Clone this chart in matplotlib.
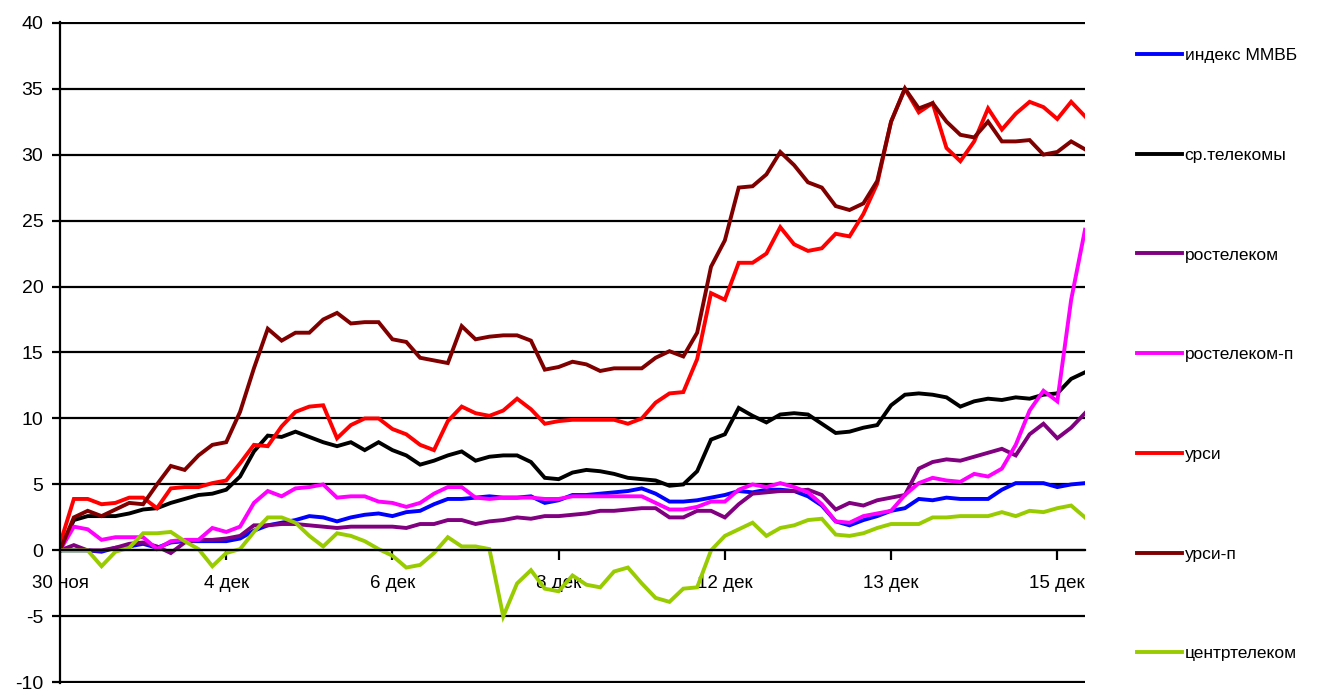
import matplotlib
matplotlib.use("Agg")
import matplotlib.pyplot as plt
import numpy as np

plt.rcParams['font.family'] = ['Liberation Sans', 'DejaVu Sans']

# x axis: one category per point, a label every 12 points
tick_labels = ["30 ноя", "4 дек", "6 дек", "8 дек", "12 дек", "13 дек", "15 дек"]
tick_step = 12

names = ["индекс ММВБ", "ср.телекомы", "ростелеком", "ростелеком-п",
         "урси", "урси-п", "центртелеком"]
colors = ["#0000FF", "#000000", "#800080", "#FF00FF",
          "#FF0000", "#800000", "#99CC00"]

micex = [0.0, 0.0, 0.0, -0.1, 0.2, 0.3, 0.5, 0.2, 0.6, 0.7, 0.7, 0.7, 0.7, 0.9, 1.5,
         1.9, 2.1, 2.3, 2.6, 2.5, 2.2, 2.5, 2.7, 2.8, 2.6, 2.9, 3.0, 3.5, 3.9, 3.9,
         4.0, 4.1, 4.0, 4.0, 4.1, 3.6, 3.8, 4.2, 4.2, 4.3, 4.4, 4.5, 4.7, 4.3, 3.7,
         3.7, 3.8, 4.0, 4.2, 4.5, 4.4, 4.6, 4.6, 4.5, 4.1, 3.4, 2.2, 1.9, 2.3, 2.6,
         3.0, 3.2, 3.9, 3.8, 4.0, 3.9, 3.9, 3.9, 4.6, 5.1, 5.1, 5.1, 4.8, 5.0, 5.1]

avg_telecom = [0.0, 2.3, 2.6, 2.6, 2.6, 2.8, 3.1, 3.2, 3.6, 3.9, 4.2, 4.3, 4.6, 5.6, 7.5,
               8.7, 8.6, 9.0, 8.6, 8.2, 7.9, 8.2, 7.6, 8.2, 7.6, 7.2, 6.5, 6.8, 7.2, 7.5,
               6.8, 7.1, 7.2, 7.2, 6.7, 5.5, 5.4, 5.9, 6.1, 6.0, 5.8, 5.5, 5.4, 5.3, 4.9,
               5.0, 6.0, 8.4, 8.8, 10.8, 10.2, 9.7, 10.3, 10.4, 10.3, 9.6, 8.9, 9.0, 9.3, 9.5,
               11.0, 11.8, 11.9, 11.8, 11.6, 10.9, 11.3, 11.5, 11.4, 11.6, 11.5, 11.8, 11.9, 13.0, 13.5]

rostelecom = [0.0, 0.4, 0.0, 0.0, 0.2, 0.5, 0.6, 0.3, -0.2, 0.6, 0.8, 0.8, 0.9, 1.1, 1.9,
              1.9, 2.0, 2.0, 1.9, 1.8, 1.7, 1.8, 1.8, 1.8, 1.8, 1.7, 2.0, 2.0, 2.3, 2.3,
              2.0, 2.2, 2.3, 2.5, 2.4, 2.6, 2.6, 2.7, 2.8, 3.0, 3.0, 3.1, 3.2, 3.2, 2.5,
              2.5, 3.0, 3.0, 2.5, 3.5, 4.3, 4.4, 4.5, 4.5, 4.6, 4.2, 3.1, 3.6, 3.4, 3.8,
              4.0, 4.2, 6.2, 6.7, 6.9, 6.8, 7.1, 7.4, 7.7, 7.2, 8.8, 9.6, 8.5, 9.3, 10.4]

rostelecom_p = [0.0, 1.8, 1.6, 0.8, 1.0, 1.0, 1.0, 0.1, 0.7, 0.8, 0.8, 1.7, 1.4, 1.8, 3.6,
                4.5, 4.1, 4.7, 4.8, 5.0, 4.0, 4.1, 4.1, 3.7, 3.6, 3.3, 3.6, 4.3, 4.8, 4.8,
                4.0, 3.9, 4.0, 4.0, 4.0, 3.9, 3.9, 4.1, 4.1, 4.1, 4.1, 4.1, 4.1, 3.6, 3.1,
                3.1, 3.3, 3.7, 3.7, 4.6, 5.0, 4.8, 5.1, 4.8, 4.4, 3.5, 2.2, 2.1, 2.6, 2.8,
                3.0, 4.2, 5.1, 5.5, 5.3, 5.2, 5.8, 5.6, 6.2, 8.0, 10.6, 12.1, 11.3, 19.0, 24.3]

ursi = [0.5, 3.9, 3.9, 3.5, 3.6, 4.0, 4.0, 3.2, 4.7, 4.8, 4.8, 5.1, 5.3, 6.6, 8.0,
        7.9, 9.4, 10.5, 10.9, 11.0, 8.5, 9.5, 10.0, 10.0, 9.2, 8.8, 8.0, 7.6, 9.8, 10.9,
        10.4, 10.2, 10.6, 11.5, 10.7, 9.6, 9.8, 9.9, 9.9, 9.9, 9.9, 9.6, 10.0, 11.2, 11.9,
        12.0, 14.5, 19.5, 19.0, 21.8, 21.8, 22.5, 24.5, 23.2, 22.7, 22.9, 24.0, 23.8, 25.5, 27.8,
        32.5, 35.0, 33.2, 33.9, 30.5, 29.5, 31.0, 33.5, 31.9, 33.1, 34.0, 33.6, 32.7, 34.0, 32.9]

ursi_p = [0.0, 2.5, 3.0, 2.6, 3.1, 3.6, 3.5, 5.0, 6.4, 6.1, 7.2, 8.0, 8.2, 10.5, 13.8,
          16.8, 15.9, 16.5, 16.5, 17.5, 18.0, 17.2, 17.3, 17.3, 16.0, 15.8, 14.6, 14.4, 14.2, 17.0,
          16.0, 16.2, 16.3, 16.3, 15.9, 13.7, 13.9, 14.3, 14.1, 13.6, 13.8, 13.8, 13.8, 14.6, 15.1,
          14.7, 16.5, 21.5, 23.5, 27.5, 27.6, 28.5, 30.2, 29.2, 27.9, 27.5, 26.1, 25.8, 26.3, 28.0,
          32.5, 35.0, 33.5, 33.9, 32.5, 31.5, 31.3, 32.5, 31.0, 31.0, 31.1, 30.0, 30.2, 31.0, 30.4]

centertelecom = [0.0, 0.0, 0.0, -1.2, -0.1, 0.2, 1.3, 1.3, 1.4, 0.7, 0.1, -1.2, -0.2, 0.1, 1.4,
                 2.5, 2.5, 2.1, 1.1, 0.3, 1.3, 1.1, 0.7, 0.1, -0.4, -1.3, -1.1, -0.2, 1.0, 0.3,
                 0.3, 0.1, -5.0, -2.5, -1.5, -2.9, -3.1, -1.9, -2.6, -2.8, -1.6, -1.3, -2.5, -3.6, -3.9,
                 -2.9, -2.8, 0.0, 1.1, 1.6, 2.1, 1.1, 1.7, 1.9, 2.3, 2.4, 1.2, 1.1, 1.3, 1.7,
                 2.0, 2.0, 2.0, 2.5, 2.5, 2.6, 2.6, 2.6, 2.9, 2.6, 3.0, 2.9, 3.2, 3.4, 2.5]

series = [micex, avg_telecom, rostelecom, rostelecom_p, ursi, ursi_p, centertelecom]

fig = plt.figure(figsize=(13.44, 6.91), dpi=100)
ax = fig.add_axes([60 / 1344, 1 - 683 / 691, 1025 / 1344, 661 / 691])

x = np.arange(len(micex))
for vals, name, col in zip(series, names, colors):
    ax.plot(x, vals, color=col, lw=2.8, label=name, solid_joinstyle='miter')

ax.set_xlim(0, len(micex) - 1)
ax.set_ylim(-10.05, 40.05)
ax.set_yticks(np.arange(-10, 41, 5))
ax.set_yticklabels([str(v) for v in range(-10, 41, 5)])
ax.set_xticks(np.arange(0, len(micex), tick_step))
ax.set_xticklabels(tick_labels)

ax.grid(axis='y', color='black', lw=1.6)
ax.spines['top'].set_visible(False)
ax.spines['right'].set_visible(False)
ax.spines['left'].set_linewidth(1.6)
ax.spines['bottom'].set_position(('data', 0))
ax.spines['bottom'].set_linewidth(1.6)

ax.tick_params(axis='y', direction='out', length=6, width=1.6, pad=6, labelsize=14)
ax.tick_params(axis='x', direction='out', length=7, width=1.6, pad=11, labelsize=13.5)

fig.legend(loc='upper left', bbox_to_anchor=(1137 / 1344, 1 - 48 / 691),
           bbox_transform=fig.transFigure, frameon=False, borderpad=0,
           borderaxespad=0, handlelength=2.6, handletextpad=0.15,
           labelspacing=4.87, fontsize=12.5)

fig.savefig("out.png", dpi=100)
